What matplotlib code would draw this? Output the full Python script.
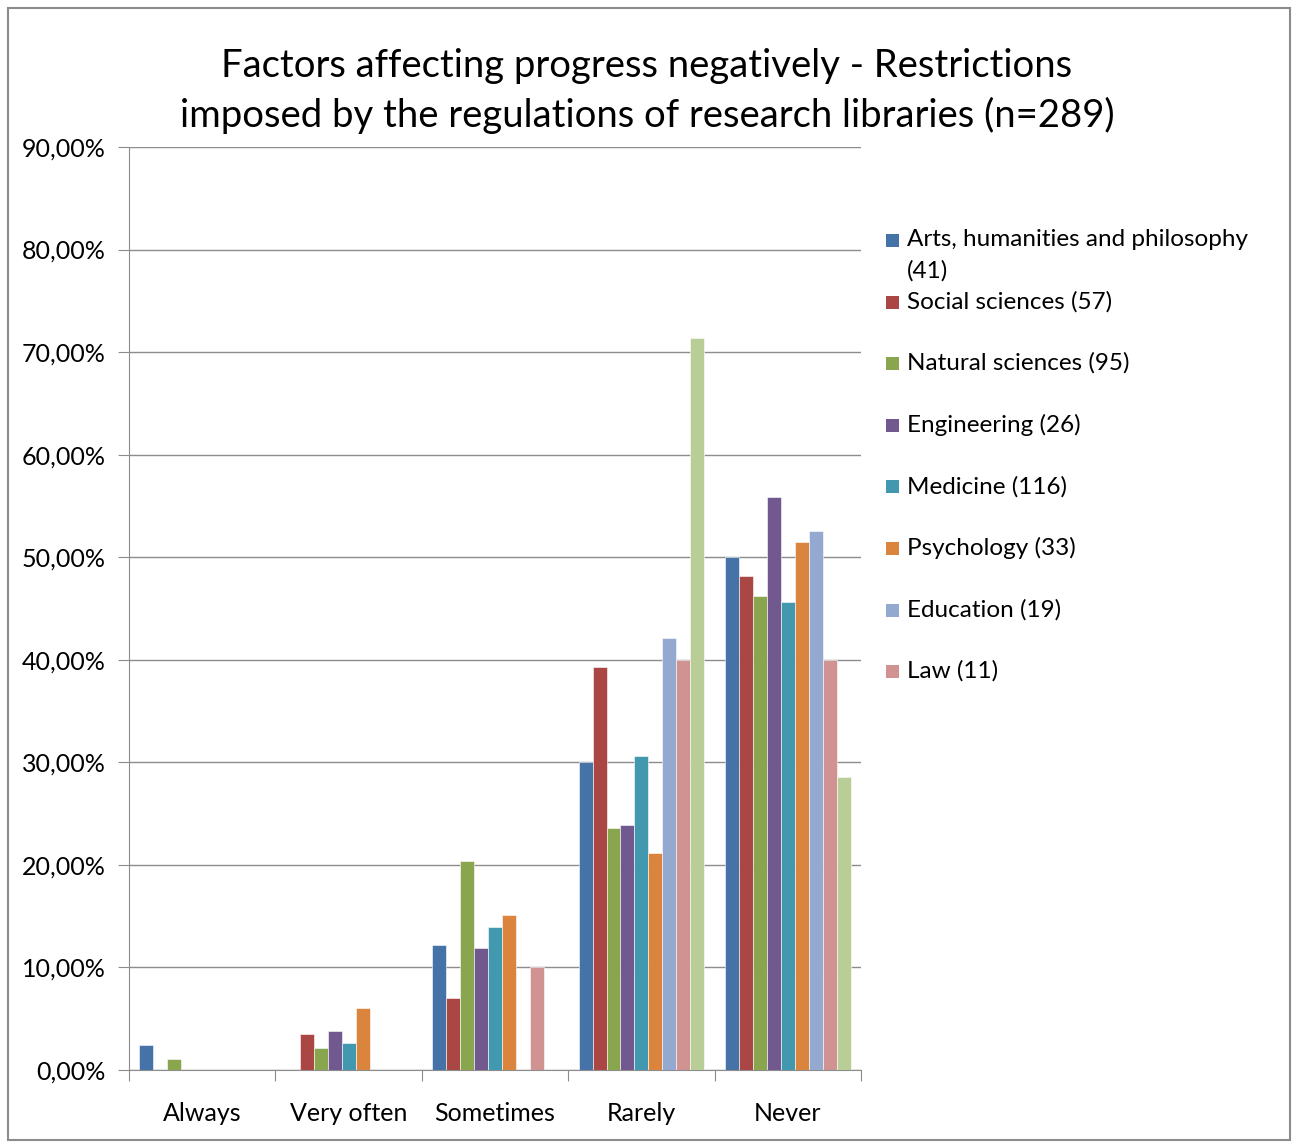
import numpy as np
import matplotlib.pyplot as plt
from matplotlib.patches import Rectangle

plt.rcParams['font.family'] = ['Lato', 'DejaVu Sans']

categories = ['Always', 'Very often', 'Sometimes', 'Rarely', 'Never']
series_names = ['Arts, humanities and philosophy\n(41)', 'Social sciences (57)',
                'Natural sciences (95)', 'Engineering (26)', 'Medicine (116)',
                'Psychology (33)', 'Education (19)', 'Law (11)', '']
arts = [2.44, 0.0, 12.2, 30.0, 50.0]
social = [0.0, 3.51, 7.02, 39.3, 48.2]
natural = [1.05, 2.11, 20.4, 23.6, 46.2]
engineering = [0.0, 3.85, 11.9, 23.9, 55.9]
medicine = [0.0, 2.59, 13.9, 30.6, 45.6]
psychology = [0.0, 6.06, 15.15, 21.2, 51.5]
education = [0.0, 0.0, 0.0, 42.1, 52.6]
law = [0.0, 0.0, 10.0, 40.0, 40.0]
extra = [0.0, 0.0, 0.0, 71.4, 28.6]
all_series = [arts, social, natural, engineering, medicine, psychology, education, law, extra]
colors = ['#4572A7', '#AA4643', '#89A54E', '#71588F', '#4198AF',
          '#DB843D', '#93A9CF', '#D19392', '#B9CD96']

W, H = 1296, 1143
fig = plt.figure(figsize=(W / 100, H / 100), dpi=100)
ax = fig.add_axes([129 / W, 1 - 1070 / H, (861 - 129) / W, (1070 - 147) / H])

n = len(all_series)
bw = 1 / (n + 1.5)
x = np.arange(len(categories))
for i, vals in enumerate(all_series):
    ax.bar(x + (i - (n - 1) / 2) * bw, vals, bw, color=colors[i],
           edgecolor='white', linewidth=0.4, zorder=3)

ax.set_xlim(-0.5, len(categories) - 0.5)
ax.set_ylim(0, 90)
yt = np.arange(0, 91, 10)
ax.set_yticks(yt)
ax.set_yticklabels([('%.2f%%' % v).replace('.', ',') for v in yt], fontsize=18)
ax.yaxis.grid(True, color='#8c8c8c', linewidth=1.0, zorder=0)
ax.set_xticks(np.arange(-0.5, len(categories), 1))
ax.set_xticklabels([])
ax.set_xticks(x, minor=True)
ax.set_xticklabels(categories, minor=True, fontsize=18)
ax.tick_params(axis='x', which='minor', length=0, pad=23)
ax.tick_params(axis='both', which='major', direction='out', length=8, color='#8c8c8c')
ax.tick_params(axis='y', pad=9)
for s in ['top', 'right']:
    ax.spines[s].set_visible(False)
for s in ['left', 'bottom']:
    ax.spines[s].set_color('#8c8c8c')

fig.text(647 / W, 1 - 91 / H,
         'Factors affecting progress negatively - Restrictions\nimposed by the regulations of research libraries (n=289)',
         ha='center', va='center', fontsize=27.5, linespacing=1.45)

# legend (last series is not listed in the original)
for i in range(8):
    yc = 240 + 61.6 * i
    fig.patches.append(Rectangle((886 / W, 1 - (yc + 7) / H), 13 / W, 13 / H,
                                 transform=fig.transFigure, facecolor=colors[i],
                                 edgecolor='none'))
    for j, line in enumerate(series_names[i].split('\n')):
        fig.text(907 / W, 1 - (yc + 31 * j) / H, line, ha='left', va='center',
                 fontsize=17.5)

fig.patches.append(Rectangle((8 / W, 3 / H), (W - 14) / W, (H - 11) / H,
                             transform=fig.transFigure, fill=False,
                             edgecolor='#8c8c8c', linewidth=1.5))

fig.savefig('out.png', dpi=100, facecolor='white')
